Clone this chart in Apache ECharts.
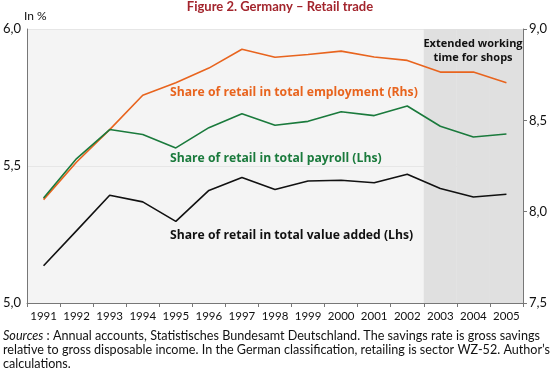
<!DOCTYPE html>
<html><head><meta charset="utf-8">
<script src="https://cdn.jsdelivr.net/npm/echarts@6/dist/echarts.min.js"></script>
<style>html,body{margin:0;padding:0;background:#fff}#c{width:550px;height:373px}</style>
</head><body><div id="c"></div>
<script>
const years = ['1991','1992','1993','1994','1995','1996','1997','1998','1999','2000','2001','2002','2003','2004','2005'];
const valueAdded = [5.136,5.264,5.393,5.369,5.298,5.411,5.458,5.414,5.445,5.448,5.439,5.470,5.418,5.387,5.397];
const payroll = [5.383,5.527,5.633,5.615,5.566,5.640,5.691,5.649,5.663,5.698,5.684,5.719,5.645,5.606,5.617];
const employment = [8.066,8.272,8.449,8.637,8.706,8.786,8.889,8.845,8.860,8.879,8.847,8.828,8.764,8.764,8.706];
const shaded = [null,null,null,null,null,null,null,null,null,null,null,null,1,1,1];
const leftTicks = [5.0,5.5,6.0];
const rightTicks = [7.5,8.0,8.5,9.0];

const FONT = 'Lato';
const LFONT = '"Open Sans"';
const fmt = v => v.toFixed(1).replace('.', ',');
const chart = echarts.init(document.getElementById('c'), null, {renderer:'canvas'});
chart.setOption({
  animation:false,
  backgroundColor:'#fff',
  textStyle:{fontFamily:FONT},
  grid:{left:26,right:27,top:29,bottom:70,show:true,backgroundColor:'#f4f4f4',borderWidth:0},
  xAxis:{type:'category',data:years,boundaryGap:true,
    axisLine:{lineStyle:{color:'#777',width:1}},
    axisTick:{show:true,length:4,lineStyle:{color:'#777'}},
    axisLabel:{interval:0,color:'#111',fontSize:11.5,fontFamily:FONT,margin:7}},
  yAxis:[
    {type:'value',min:leftTicks[0],max:leftTicks[2],interval:0.5,position:'left',
      axisLine:{show:true,lineStyle:{color:'#777'}},axisTick:{show:false},
      axisLabel:{formatter:fmt,color:'#111',fontSize:13,fontFamily:FONT,margin:6},
      splitLine:{show:true,lineStyle:{color:'#e6e6e6',width:1}}},
    {type:'value',min:rightTicks[0],max:rightTicks[3],interval:0.5,position:'right',
      axisLine:{show:true,lineStyle:{color:'#777'}},axisTick:{show:true,length:4,lineStyle:{color:'#777'}},
      axisLabel:{formatter:fmt,color:'#111',fontSize:13,fontFamily:FONT,margin:6},
      splitLine:{show:false}},
    {type:'value',min:0,max:1,show:false,splitLine:{show:false}}
  ],
  series:[
    {type:'bar',yAxisIndex:2,data:shaded,barWidth:'100%',barCategoryGap:'0%',itemStyle:{color:'#e0e0e0'},z:1,silent:true},
    {type:'line',yAxisIndex:1,data:employment,symbol:'none',lineStyle:{color:'#e8641e',width:1.6},z:3},
    {type:'line',yAxisIndex:0,data:payroll,symbol:'none',lineStyle:{color:'#1a7a3c',width:1.6},z:3},
    {type:'line',yAxisIndex:0,data:valueAdded,symbol:'none',lineStyle:{color:'#111',width:1.6},z:3}
  ],
  graphic:[
    {type:'text',z:100,x:280,y:7,style:{text:'Figure 2. Germany – Retail trade',fill:'#a3252d',font:'bold 13px '+FONT,align:'center',verticalAlign:'middle'}},
    {type:'text',z:100,x:24,y:16,style:{text:'In %',fill:'#111',font:'12px '+FONT,verticalAlign:'middle'}},
    {type:'text',z:100,x:170,y:93,style:{text:'Share of retail in total employment (Rhs)',fill:'#e8641e',font:'bold 12.2px '+LFONT,verticalAlign:'middle'}},
    {type:'text',z:100,x:170,y:159,style:{text:'Share of retail in total payroll (Lhs)',fill:'#1a7a3c',font:'bold 12.2px '+LFONT,verticalAlign:'middle'}},
    {type:'text',z:100,x:170,y:236,style:{text:'Share of retail in total value added (Lhs)',fill:'#111',font:'bold 12.2px '+LFONT,verticalAlign:'middle'}},
    {type:'text',z:100,x:473,y:51,style:{text:'Extended working\ntime for shops',fill:'#111',font:'bold 11px '+LFONT,align:'center',verticalAlign:'middle',lineHeight:14}},
    {type:'text',z:100,x:3,y:336,style:{text:'{i|Sources} : Annual accounts, Statistisches Bundesamt Deutschland. The savings rate is gross savings',fill:'#111',font:'12.6px '+FONT,verticalAlign:'middle',rich:{i:{fontStyle:'italic',fontSize:12.6,fontFamily:FONT,fill:'#111'}}}},
    {type:'text',z:100,x:3,y:350,style:{text:'relative to gross disposable income. In the German classification, retailing is sector WZ-52. Author’s',fill:'#111',font:'12.6px '+FONT,verticalAlign:'middle'}},
    {type:'text',z:100,x:3,y:364,style:{text:'calculations.',fill:'#111',font:'12.6px '+FONT,verticalAlign:'middle'}}
  ]
});
</script></body></html>
